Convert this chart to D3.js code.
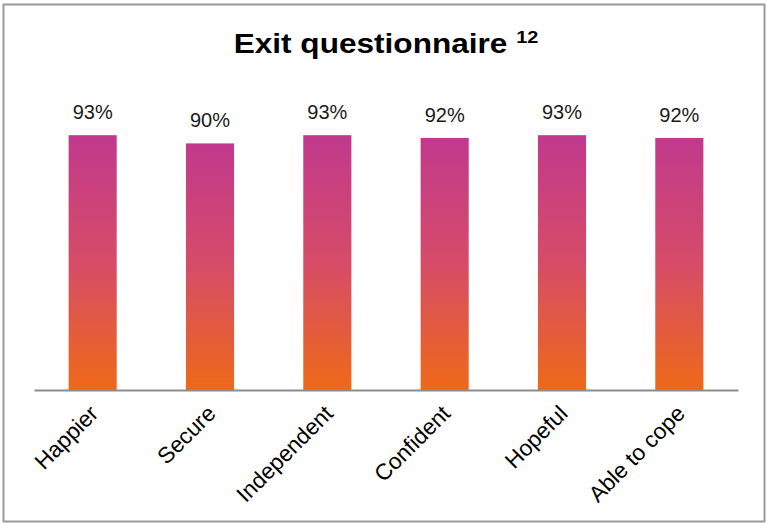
<!DOCTYPE html>
<html>
<head>
<meta charset="utf-8">
<script src="https://cdn.jsdelivr.net/npm/d3@7"></script>
<style>
  body { margin: 0; background: #fff; }
  text { font-family: "Liberation Sans", Arial, sans-serif; }
</style>
</head>
<body>
<div id="chart"></div>
<script>
const categories = ["Happier", "Secure", "Independent", "Confident", "Hopeful", "Able to cope"];
const values = [93, 90, 93, 92, 93, 92];
const titleText = "Exit questionnaire";
const titleSup = "12";

const W = 768, H = 526;
const margin = {top: 116, right: 30, bottom: 136, left: 34};
const width = W - margin.left - margin.right;
const height = H - margin.top - margin.bottom;

const svg = d3.select("#chart").append("svg")
    .attr("width", W)
    .attr("height", H);

// outer frame
svg.append("rect")
    .attr("x", 3.5).attr("y", 4.5)
    .attr("width", 761).attr("height", 517)
    .attr("fill", "#fff")
    .attr("stroke", "#9a9a9a")
    .attr("stroke-width", 2);

const defs = svg.append("defs");
const grad = defs.append("linearGradient")
    .attr("id", "barGrad")
    .attr("x1", 0).attr("y1", 0).attr("x2", 0).attr("y2", 1);
grad.append("stop").attr("offset", "0%").attr("stop-color", "#c1398d");
grad.append("stop").attr("offset", "50%").attr("stop-color", "#d64c68");
grad.append("stop").attr("offset", "100%").attr("stop-color", "#ee6918");

// title
const title = svg.append("text")
    .attr("transform", "translate(386,53) scale(1.17,1)")
    .attr("text-anchor", "middle")
    .attr("font-weight", "bold")
    .attr("font-size", 27)
    .attr("fill", "#000");
title.append("tspan").text(titleText + " ");
title.append("tspan")
    .attr("font-size", 17)
    .attr("dy", -10)
    .text(titleSup);

const g = svg.append("g")
    .attr("transform", `translate(${margin.left},${margin.top})`);

const x = d3.scaleBand()
    .domain(categories)
    .range([0, width])
    .paddingInner(0.59)
    .paddingOuter(0.295);

const y = d3.scaleLinear()
    .domain([0, 100])
    .range([height, 0]);

g.selectAll("rect.bar")
    .data(categories)
    .join("rect")
    .attr("class", "bar")
    .attr("x", d => x(d))
    .attr("width", x.bandwidth())
    .attr("y", (d, i) => y(values[i]))
    .attr("height", (d, i) => height - y(values[i]))
    .attr("fill", "url(#barGrad)");

g.selectAll("text.val")
    .data(categories)
    .join("text")
    .attr("class", "val")
    .attr("x", d => x(d) + x.bandwidth() / 2)
    .attr("y", (d, i) => y(values[i]) - 16)
    .attr("text-anchor", "middle")
    .attr("font-size", 20)
    .attr("fill", "#1a1a1a")
    .text((d, i) => values[i] + "%");

const xAxis = g.append("g")
    .attr("transform", `translate(0,${height})`)
    .call(d3.axisBottom(x).tickSize(0).tickPadding(0));

xAxis.select(".domain")
    .attr("stroke", "#8c8c8c")
    .attr("stroke-width", 2);

xAxis.selectAll(".tick text")
    .attr("font-size", 22.5)
    .attr("fill", "#000")
    .attr("text-anchor", "end")
    .attr("dy", 0)
    .attr("transform", "translate(7,25) rotate(-45)");
</script>
</body>
</html>
